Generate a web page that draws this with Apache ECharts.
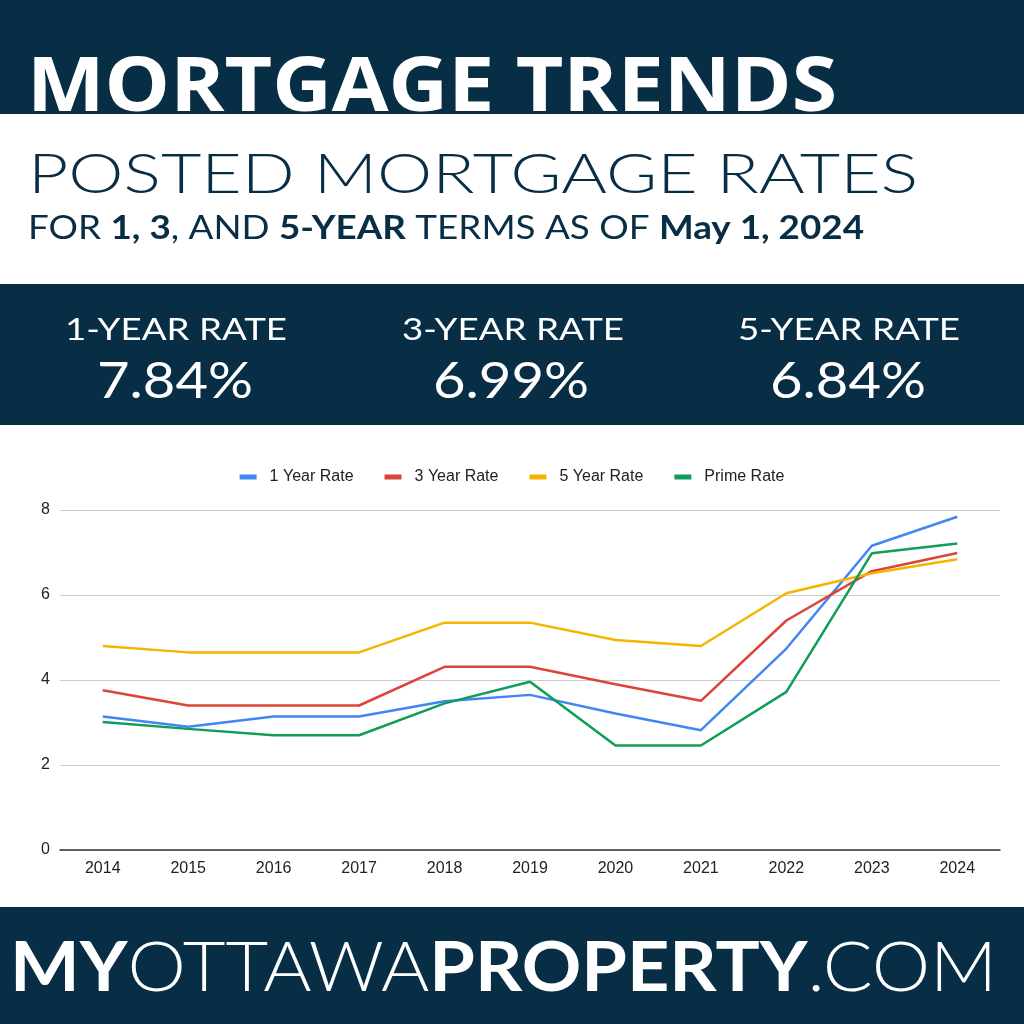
<!DOCTYPE html>
<html>
<head>
<meta charset="utf-8">
<script src="https://cdn.jsdelivr.net/npm/echarts@6/dist/echarts.min.js"></script>
<style>
  html, body { margin: 0; padding: 0; background: #fff; }
  #main { width: 1024px; height: 1024px; }
</style>
</head>
<body>
<div id="main"></div>
<script>
// data
var years = ['2014', '2015', '2016', '2017', '2018', '2019', '2020', '2021', '2022', '2023', '2024'];
var oneYear = [3.14, 2.90, 3.14, 3.14, 3.50, 3.65, 3.21, 2.82, 4.74, 7.16, 7.84];
var threeYear = [3.76, 3.40, 3.40, 3.40, 4.31, 4.31, 3.90, 3.51, 5.40, 6.56, 6.99];
var fiveYear = [4.80, 4.65, 4.65, 4.65, 5.35, 5.35, 4.94, 4.80, 6.04, 6.51, 6.84];
var primeRate = [3.01, 2.85, 2.70, 2.70, 3.45, 3.96, 2.46, 2.46, 3.72, 6.98, 7.21];
var seriesNames = ['1 Year Rate', '3 Year Rate', '5 Year Rate', 'Prime Rate'];
var seriesColors = ['#4285F4', '#DB4437', '#F4B400', '#0F9D58'];
var rateLabels = ['1-YEAR RATE', '3-YEAR RATE', '5-YEAR RATE'];
var rateValues = ['7.84%', '6.99%', '6.84%'];

var navy = '#082e45';
var chart = echarts.init(document.getElementById('main'));
var ctx = document.createElement('canvas').getContext('2d');

// one rich text stretched sideways so it spans the given width, like the poster artwork
function fitText(segs, left, width, y, color, z) {
    var natural = 0;
    var text = '';
    var rich = {};
    segs.forEach(function (sg, k) {
        ctx.font = sg[1];
        natural += ctx.measureText(sg[0]).width;
        text += '{s' + k + '|' + sg[0] + '}';
        rich['s' + k] = { fill: color, font: sg[1] };
    });
    return {
        type: 'text', x: left, y: y, z: z || 2,
        scaleX: width / natural,
        style: { text: text, rich: rich, verticalAlign: 'middle' }
    };
}

var headers = [
    { type: 'rect', shape: { x: 0, y: 0, width: 1024, height: 114 }, style: { fill: navy }, z: 0 },
    { type: 'rect', shape: { x: 0, y: 114, width: 1024, height: 170 }, style: { fill: '#fff' }, z: 5 },
    { type: 'rect', shape: { x: 0, y: 284, width: 1024, height: 141 }, style: { fill: navy }, z: 0 },
    { type: 'rect', shape: { x: 0, y: 907, width: 1024, height: 117 }, style: { fill: navy }, z: 0 }
];
var texts = [
    fitText([['MORTGAGE TRENDS', 'bold 76px "Open Sans"']], 27, 810, 89, '#fff', 2),
    fitText([['POSTED MORTGAGE RATES', '300 56px Lato']], 28, 890, 175, navy, 6),
    fitText([
        ['FOR ', '32px Lato'], ['1, 3', 'bold 32px Lato'], [', AND ', '32px Lato'],
        ['5-YEAR', 'bold 32px Lato'], [' TERMS AS OF ', '32px Lato'], ['May 1, 2024', 'bold 32px Lato']
    ], 28, 836, 229, navy, 6),
    fitText([['MY', 'bold 68px Lato'], ['OTTAWA', '300 68px Lato'], ['PROPERTY', 'bold 68px Lato'], ['.COM', '300 68px Lato']],
        10, 987, 969, '#fff', 2)
];
var centers = [176, 513, 849];
var valCenters = [175, 511, 848];
for (var i = 0; i < 3; i++) {
    texts.push(fitText([[rateLabels[i], '30px Lato']], centers[i] - 111, 222, 330, '#fff', 2));
    texts.push(fitText([[rateValues[i], '51px Lato']], valCenters[i] - 78, 156, 382, '#fff', 2));
}

var series = [];
var allData = [oneYear, threeYear, fiveYear, primeRate];
for (var s = 0; s < 4; s++) {
    series.push({
        name: seriesNames[s],
        type: 'line',
        data: allData[s],
        showSymbol: false,
        symbol: 'none',
        lineStyle: { width: 2.5, color: seriesColors[s] },
        itemStyle: { color: seriesColors[s] }
    });
}

var option = {
    animation: false,
    backgroundColor: '#fff',
    graphic: headers.concat(texts),
    legend: {
        top: 464,
        left: 'center',
        itemWidth: 17,
        itemHeight: 5,
        itemGap: 31,
        icon: 'rect',
        textStyle: { fontFamily: 'Liberation Sans', fontSize: 16, color: '#222', padding: [0, 0, 0, 8] },
        data: seriesNames
    },
    grid: { left: 60, right: 24, top: 510, bottom: 174 },
    xAxis: {
        type: 'category',
        data: years,
        boundaryGap: true,
        axisLine: { lineStyle: { color: '#333', width: 1.5 } },
        axisTick: { show: false },
        axisLabel: { fontFamily: 'Liberation Sans', fontSize: 16, color: '#222', margin: 11 }
    },
    yAxis: {
        type: 'value',
        min: 0, max: 8, interval: 2,
        axisLine: { show: false },
        axisTick: { show: false },
        splitLine: { lineStyle: { color: '#cccccc', width: 1 } },
        axisLabel: { fontFamily: 'Liberation Sans', fontSize: 16, color: '#222', margin: 10 }
    },
    series: series
};
chart.setOption(option);
</script>
</body>
</html>
